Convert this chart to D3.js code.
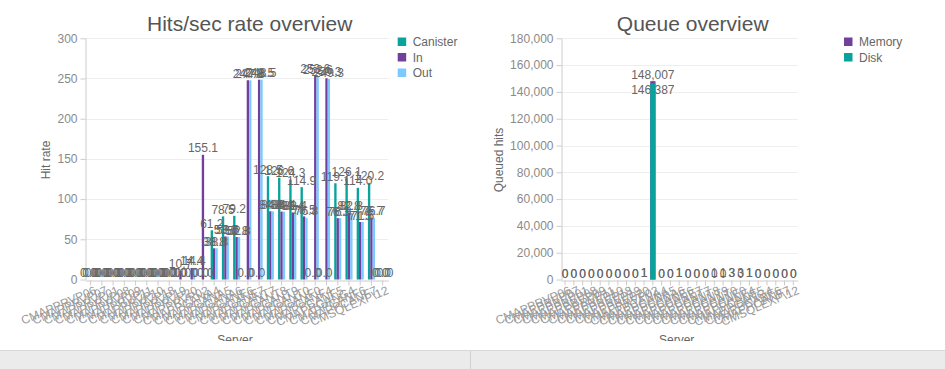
<!DOCTYPE html>
<html><head><meta charset="utf-8">
<script src="https://cdn.jsdelivr.net/npm/d3@7"></script>
<style>
html,body{margin:0;padding:0;background:#fff;}
svg{display:block;font-family:"Liberation Sans",Arial,sans-serif;}
</style></head><body>
<svg id="c" width="945" height="369"></svg>
<script>
// ---------- data ----------
const servers = ["CMAPPRVP06","CMAPPRVP07","CMAPPRVP01","CMAPPRVP08","CMAPPRVP09","CMAPPRVP11",
  "CMAPPRVP10","CMAPPRVP18","CMAPPRVP19","CMAPPRVP20","CMAPPRVP02","CMAPPCANA4","CMAPPCANA5",
  "CMAPPCANA6","CMAPPCANE6","CMAPPCANE7","CMAPPCANT7","CMAPPCANT8","CMAPPCANT9","CMAPPCANT0",
  "CMAPPCANF0","CMAPPCANF4","CMAPPCANF5","CMAPPCANG4","CMAPPCANF6","CMAPPCANF7","CMSQLEXP\\12"];
const canister = [0,0,0,0,0,0,0,0,0,0,0,61.2,78.5,79.2,0,0,128.5,126.6,124.3,114.9,0,0,119.7,126.1,114.0,120.2,0];
const hitsIn   = [0,0,0,0,0,0,0,0,10.7,14.4,155.1,38.8,53.6,52.8,247.8,248.5,84.8,84.4,83.4,78.5,253.6,250.3,76.3,82.8,71.5,76.7,0];
const hitsOut  = [0,0,0,0,0,0,0,0,0,14.4,0,38.8,53.6,52.8,247.8,248.5,84.8,84.4,83.4,76.8,252.6,249.3,76.3,82.8,71.5,76.7,0];
const memoryQ  = [0,0,0,0,0,0,0,0,0,1,148007,0,0,1,0,0,0,0,0,3,3,1,0,0,0,0,0];
const diskQ    = [0,0,0,0,0,0,0,0,0,1,146387,0,0,1,0,0,0,1,1,3,0,1,0,0,0,0,0];
const hitTicks = [0,50,100,150,200,250,300];
const queueTicks = [0,20000,40000,60000,80000,100000,120000,140000,160000,180000];
const hitSeries = ["Canister","In","Out"];
const queueSeries = ["Memory","Disk"];

const C_TEAL="#0aa39b", C_PURPLE="#71409d", C_BLUE="#7cc9ff";

const svg = d3.select("#c");
const defs = svg.append("defs");
defs.append("clipPath").attr("id","clipL").append("rect").attr("x",0).attr("y",0).attr("width",470).attr("height",341);
defs.append("clipPath").attr("id","clipR").append("rect").attr("x",470).attr("y",0).attr("width",475).attr("height",341);

const TOP=38.3, BOT=279.5;

function panel(opts){
  const g = svg.append("g").attr("clip-path",`url(#${opts.clip})`);
  const x = d3.scaleBand().domain(servers).range([opts.x0,opts.x1]).paddingInner(0).paddingOuter(0);
  const y = d3.scaleLinear().domain([0,opts.max]).range([BOT,TOP]);
  g.append("text").attr("x",opts.titleX).attr("y",31).attr("text-anchor","middle")
    .attr("font-size",21).attr("fill","#555").text(opts.title);
  g.append("g").selectAll("line").data(opts.ticks.slice(1)).join("line")
    .attr("x1",opts.x0).attr("x2",opts.x1)
    .attr("y1",d=>Math.round(y(d))+0.5).attr("y2",d=>Math.round(y(d))+0.5)
    .attr("stroke","#eeeeee");
  const ya = g.append("g").attr("transform",`translate(${Math.round(opts.x0)+0.5},0)`)
    .call(d3.axisLeft(y).tickValues(opts.ticks).tickSize(5).tickSizeOuter(0).tickPadding(3).tickFormat(opts.yfmt));
  ya.select(".domain").attr("stroke","#cccccc");
  ya.selectAll(".tick line").attr("stroke","#cccccc");
  ya.selectAll(".tick text").attr("fill","#8a8a8a").attr("font-size",12).attr("font-family","Liberation Sans, Arial, sans-serif");
  const xa = g.append("g").attr("transform",`translate(0,${Math.round(BOT)+0.5})`)
    .call(d3.axisBottom(x).tickSize(5).tickSizeOuter(0));
  xa.select(".domain").attr("stroke","#cccccc");
  xa.selectAll(".tick line").attr("stroke","#cccccc");
  xa.selectAll(".tick text").attr("fill","#999").attr("font-size",12)
    .attr("font-family","Liberation Sans, Arial, sans-serif")
    .attr("text-anchor","end").attr("y",0).attr("dy","0.35em")
    .attr("transform","translate(5,9) rotate(-23)");
  g.append("text").attr("transform",`translate(${opts.ytX},160) rotate(-90)`).attr("text-anchor","middle")
    .attr("font-size",12).attr("fill","#666").text(opts.yTitle);
  g.append("text").attr("x",opts.xtX).attr("y",344).attr("text-anchor","middle")
    .attr("font-size",12).attr("fill","#666").text("Server");
  opts.draw(g,x,y);
  const lg = g.append("g");
  opts.legend.forEach((s,i)=>{
    lg.append("rect").attr("x",opts.legX).attr("y",37.5+i*15.5).attr("width",8.5).attr("height",8.5).attr("fill",s.color);
    lg.append("text").attr("x",opts.legX+15).attr("y",46+i*15.5).attr("font-size",12).attr("fill","#666").text(s.name);
  });
}

panel({
  clip:"clipL", x0:85, x1:388.3, max:300, ticks:hitTicks, yfmt:d3.format("d"),
  title:"Hits/sec rate overview", titleX:249.7, yTitle:"Hit rate", ytX:50, xtX:235,
  legX:397.7,
  legend:[{name:hitSeries[0],color:C_TEAL},{name:hitSeries[1],color:C_PURPLE},{name:hitSeries[2],color:C_BLUE}],
  draw:(g,x,y)=>{
    const bw = x.bandwidth()*0.21;
    const series=[{v:canister,c:C_TEAL},{v:hitsIn,c:C_PURPLE},{v:hitsOut,c:C_BLUE}];
    const fmt=d3.format(".1f");
    series.forEach((s,k)=>{
      const off=(k-1)*bw;
      g.append("g").selectAll("rect").data(servers).join("rect")
        .attr("x",(d)=>x(d)+x.bandwidth()/2+off-bw/2)
        .attr("width",bw)
        .attr("y",(d,i)=>y(s.v[i]))
        .attr("height",(d,i)=>BOT-y(s.v[i]))
        .attr("fill",s.c);
    });
    series.forEach((s,k)=>{
      const off=(k-1)*bw;
      g.append("g").selectAll("text").data(servers).join("text")
        .attr("x",(d)=>x(d)+x.bandwidth()/2+off)
        .attr("y",(d,i)=>y(s.v[i])-2.5)
        .attr("text-anchor","middle").attr("font-size",12).attr("fill","#666")
        .text((d,i)=>fmt(s.v[i]));
    });
  }
});

panel({
  clip:"clipR", x0:560.7, x1:797.7, max:180000, ticks:queueTicks, yfmt:d3.format(","),
  title:"Queue overview", titleX:692.7, yTitle:"Queued hits", ytX:502.5, xtX:676.7,
  legX:844,
  legend:[{name:queueSeries[0],color:C_PURPLE},{name:queueSeries[1],color:C_TEAL}],
  draw:(g,x,y)=>{
    const bw = x.bandwidth()*0.6;
    const fmt=d3.format(",");
    g.append("g").selectAll("rect").data(servers).join("rect")
      .attr("x",d=>x(d)+x.bandwidth()/2-bw/2).attr("width",bw)
      .attr("y",(d,i)=>y(memoryQ[i])).attr("height",(d,i)=>BOT-y(memoryQ[i])).attr("fill",C_PURPLE);
    g.append("g").selectAll("text").data(servers).join("text")
      .attr("x",d=>x(d)+x.bandwidth()/2).attr("y",(d,i)=>y(memoryQ[i])-2)
      .attr("text-anchor","middle").attr("font-size",12).attr("fill","#666")
      .text((d,i)=>fmt(memoryQ[i]));
    g.append("g").selectAll("text").data(servers).join("text")
      .attr("x",d=>x(d)+x.bandwidth()/2)
      .attr("y",(d,i)=>{
        const ym=y(memoryQ[i])-2, yd=y(diskQ[i])-2;
        return (memoryQ[i]>1000 && Math.abs(ym-yd)<13) ? ym+15 : yd;
      })
      .attr("text-anchor","middle").attr("font-size",12).attr("fill","#666")
      .text((d,i)=>fmt(diskQ[i]));
    g.append("g").selectAll("rect").data(servers).join("rect")
      .attr("x",d=>x(d)+x.bandwidth()/2-bw/2).attr("width",bw)
      .attr("y",(d,i)=>y(diskQ[i])).attr("height",(d,i)=>BOT-y(diskQ[i])).attr("fill",C_TEAL);
  }
});

svg.append("rect").attr("x",0).attr("y",350.5).attr("width",945).attr("height",19).attr("fill","#ebebeb");
svg.append("line").attr("x1",0).attr("x2",945).attr("y1",350.5).attr("y2",350.5).attr("stroke","#d8d8d8");
svg.append("line").attr("x1",470.5).attr("x2",470.5).attr("y1",351).attr("y2",369).attr("stroke","#d0d0d0");
</script>
</body></html>
